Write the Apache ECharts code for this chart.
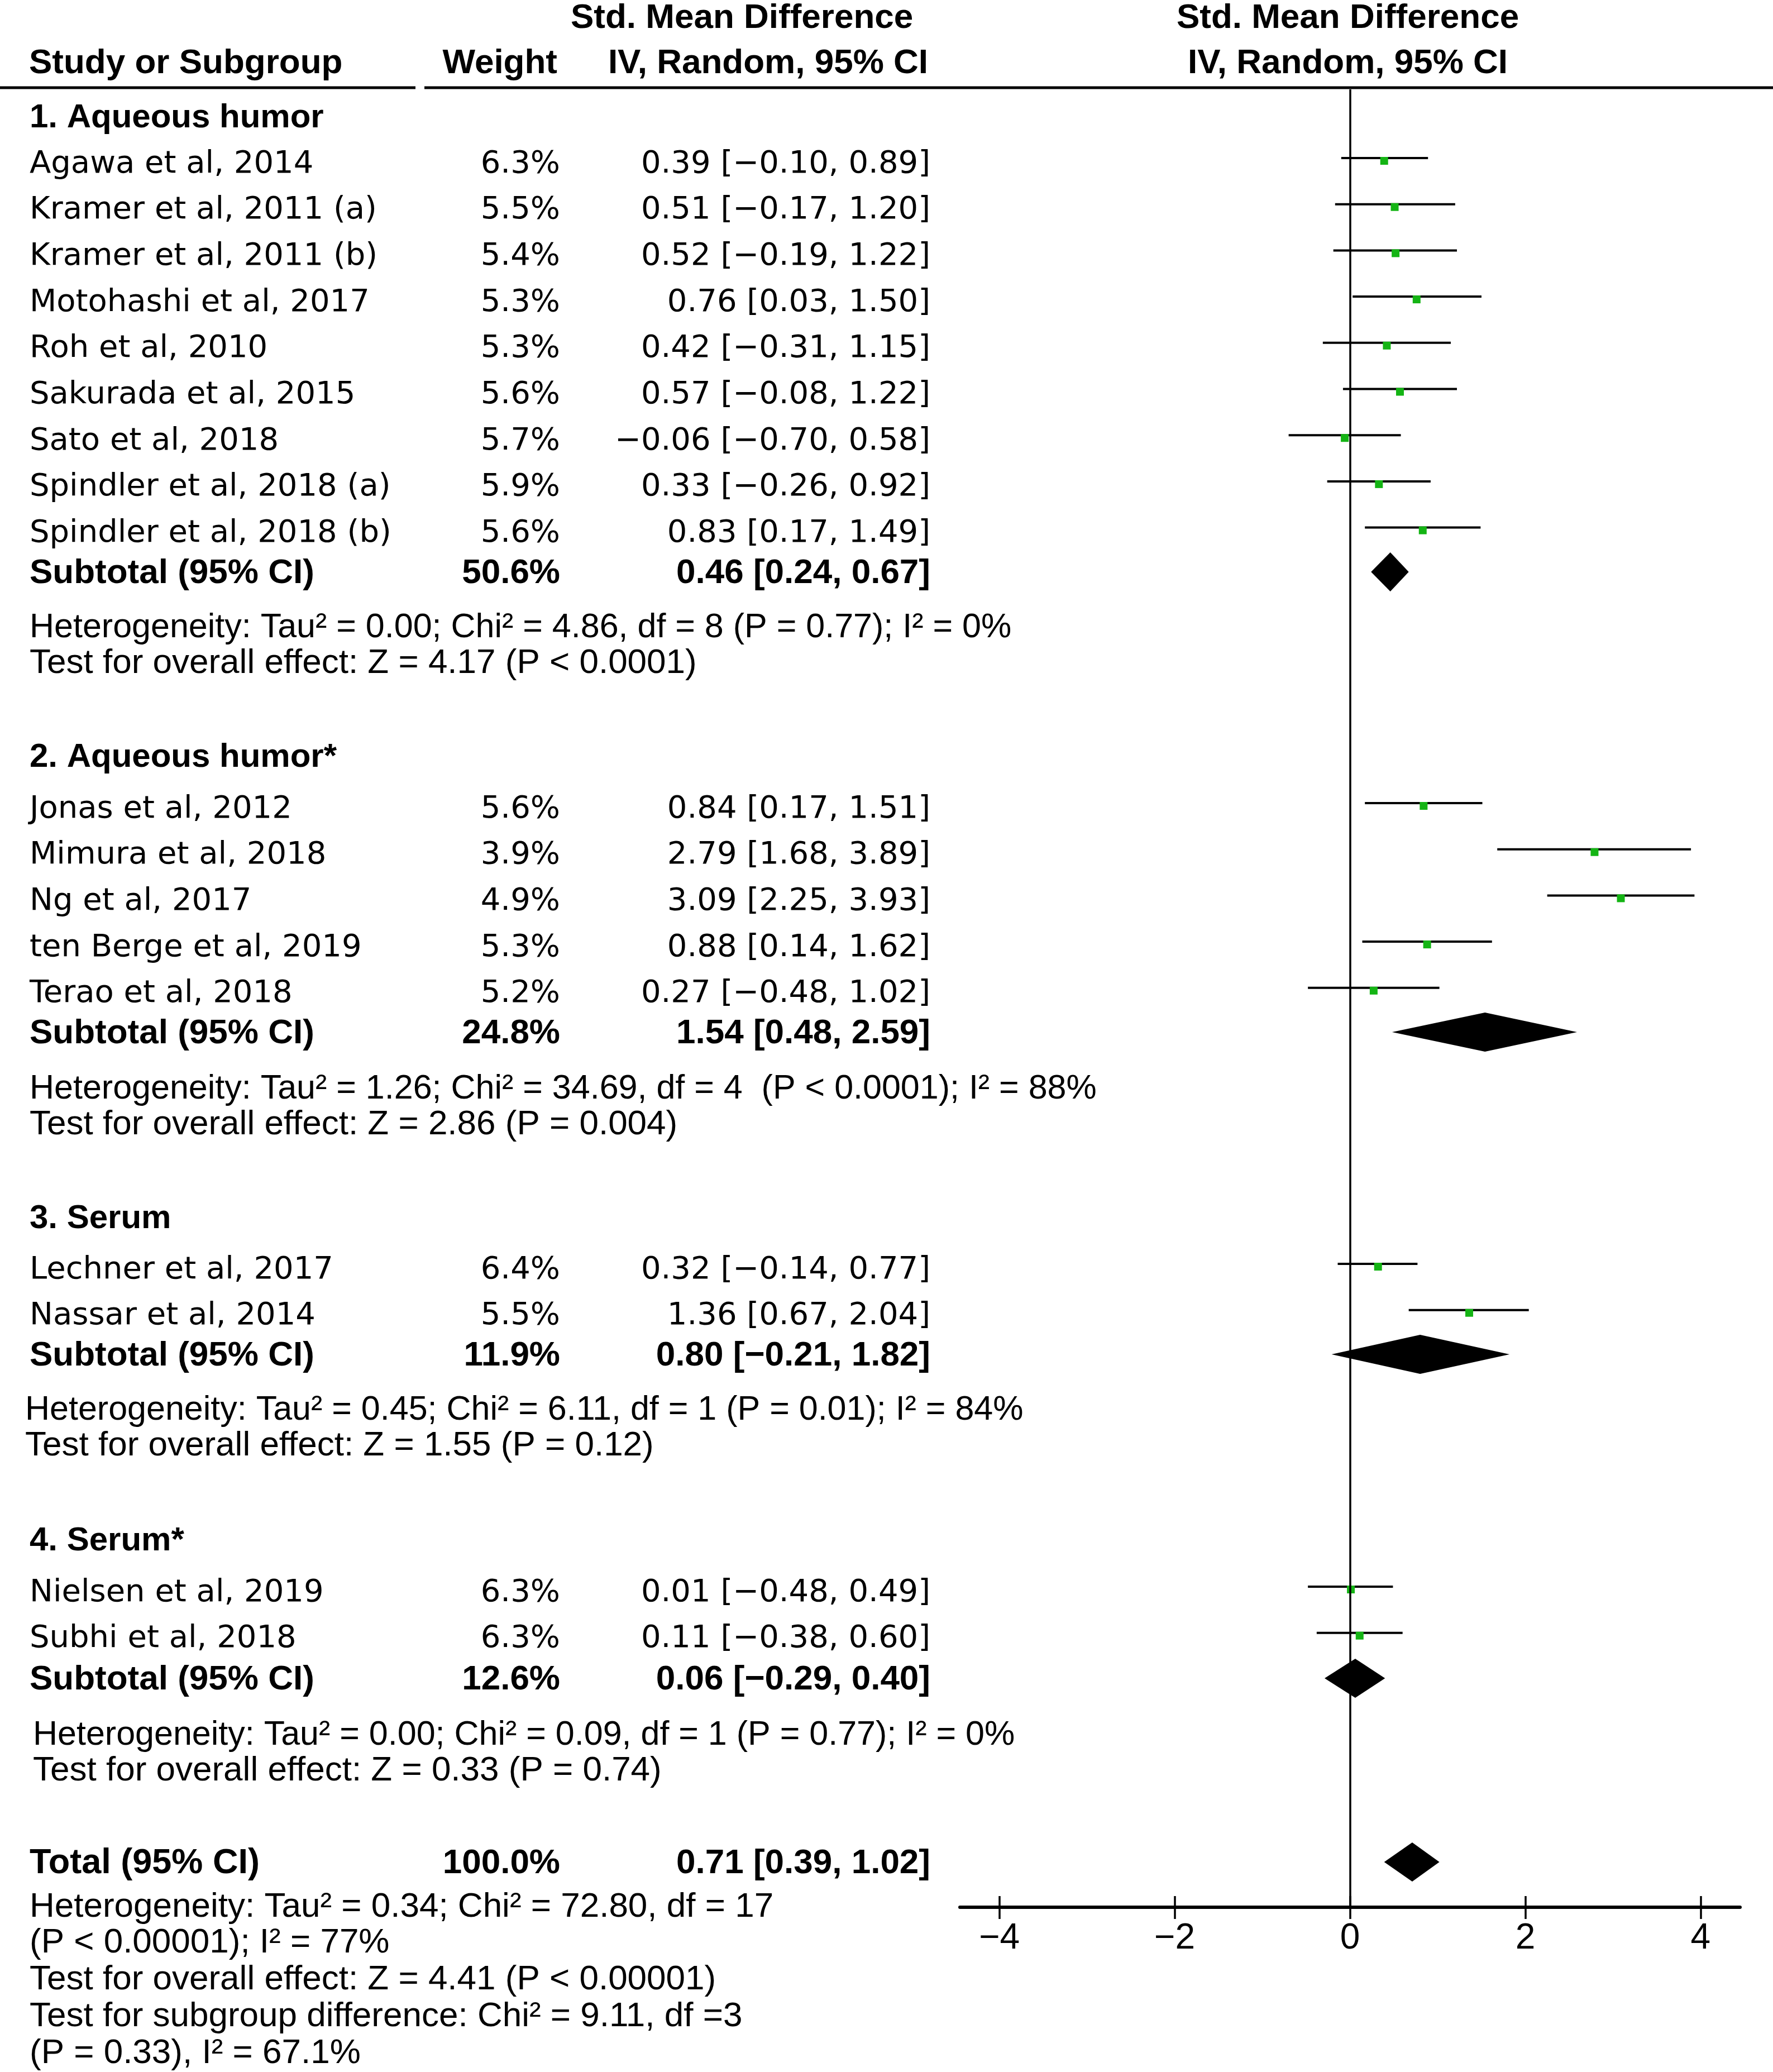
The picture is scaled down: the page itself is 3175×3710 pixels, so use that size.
<!DOCTYPE html>
<html><head><meta charset="utf-8">
<script src="https://cdn.jsdelivr.net/npm/echarts@6/dist/echarts.min.js"></script>
<style>html,body{margin:0;padding:0;background:#fff}#c{width:3175px;height:3710px}</style>
</head><body><div id="c"></div>
<script>
// ---------------- DATA ----------------
const groupTitles = ['1. Aqueous humor', '2. Aqueous humor*', '3. Serum', '4. Serum*'];
const studyGroup = [0,0,0,0,0,0,0,0,0, 1,1,1,1,1, 2,2, 3,3];
const studyNames = [
  'Agawa et al, 2014', 'Kramer et al, 2011 (a)', 'Kramer et al, 2011 (b)', 'Motohashi et al, 2017',
  'Roh et al, 2010', 'Sakurada et al, 2015', 'Sato et al, 2018', 'Spindler et al, 2018 (a)', 'Spindler et al, 2018 (b)',
  'Jonas et al, 2012', 'Mimura et al, 2018', 'Ng et al, 2017', 'ten Berge et al, 2019', 'Terao et al, 2018',
  'Lechner et al, 2017', 'Nassar et al, 2014',
  'Nielsen et al, 2019', 'Subhi et al, 2018'
];
const studyWeights = [6.3,5.5,5.4,5.3,5.3,5.6,5.7,5.9,5.6, 5.6,3.9,4.9,5.3,5.2, 6.4,5.5, 6.3,6.3];
const studySMD   = [0.39,0.51,0.52,0.76,0.42,0.57,-0.06,0.33,0.83, 0.84,2.79,3.09,0.88,0.27, 0.32,1.36, 0.01,0.11];
const studyLower = [-0.10,-0.17,-0.19,0.03,-0.31,-0.08,-0.70,-0.26,0.17, 0.17,1.68,2.25,0.14,-0.48, -0.14,0.67, -0.48,-0.38];
const studyUpper = [0.89,1.20,1.22,1.50,1.15,1.22,0.58,0.92,1.49, 1.51,3.89,3.93,1.62,1.02, 0.77,2.04, 0.49,0.60];
const subtotalWeights = [50.6, 24.8, 11.9, 12.6];
const subtotalSMD   = [0.46, 1.54, 0.80, 0.06];
const subtotalLower = [0.24, 0.48, -0.21, -0.29];
const subtotalUpper = [0.67, 2.59, 1.82, 0.40];
const heterogeneityLines = [
  'Heterogeneity: Tau² = 0.00; Chi² = 4.86, df = 8 (P = 0.77); I² = 0%',
  'Heterogeneity: Tau² = 1.26; Chi² = 34.69, df = 4  (P < 0.0001); I² = 88%',
  'Heterogeneity: Tau² = 0.45; Chi² = 6.11, df = 1 (P = 0.01); I² = 84%',
  'Heterogeneity: Tau² = 0.00; Chi² = 0.09, df = 1 (P = 0.77); I² = 0%'
];
const overallEffectLines = [
  'Test for overall effect: Z = 4.17 (P < 0.0001)',
  'Test for overall effect: Z = 2.86 (P = 0.004)',
  'Test for overall effect: Z = 1.55 (P = 0.12)',
  'Test for overall effect: Z = 0.33 (P = 0.74)'
];
const totalWeight = 100.0;
const totalSMD = 0.71, totalLower = 0.39, totalUpper = 1.02;
const totalNotes = [
  'Heterogeneity: Tau² = 0.34; Chi² = 72.80, df = 17',
  '(P < 0.00001); I² = 77%',
  'Test for overall effect: Z = 4.41 (P < 0.00001)',
  'Test for subgroup difference: Chi² = 9.11, df =3',
  '(P = 0.33), I² = 67.1%'
];
const axisTicks = [-4, -2, 0, 2, 4];

// ---------------- LAYOUT ----------------
const FONT = '"Liberation Sans", Arial, sans-serif';
const FONT_ROW = '"DejaVu Sans", Verdana, sans-serif';
const FS = 62, FS_ROW = 56, FS_NOTE = 61, FS_GROUP = 60;
const colStudyX = 53, colWeightX = 1003, colCIX = 1666;
const textDy = 3;
const headingY = [208, 1353, 2179, 2756];
const firstStudyY = [291, 1446, 2271, 2849];
const rowStep = 82.7;
const subtotalY = [1024, 1848, 2425, 3005];
const hetY = [1121, 1947, 2522, 3104];
const testY = [1185, 2011, 2586, 3168];
const noteX = [53, 53, 45, 59];
const totalY = 3334;
const totalNotesY = [3412, 3476, 3542, 3608, 3674];
const plotTop = 160, axisY = 3415;
const lineOff = -8, sqOff = -3, sqSize = 14, diamondH = 70;

const fmt = v => v.toFixed(2).replace('-', '−');
const ciText = (m, l, u) => fmt(m) + ' [' + fmt(l) + ', ' + fmt(u) + ']';

const studyY = [];
const countInGroup = [0,0,0,0];
studyGroup.forEach((g, i) => { studyY.push(firstStudyY[g] + rowStep * countInGroup[g]); countInGroup[g]++; });

const texts = [];
function T(text, x, y, align, bold, size, family) {
  texts.push({text, x, y: y + textDy, align: align || 'left', bold: !!bold, size: size || FS, family: family || FONT});
}
T('Std. Mean Difference', 1022, 30, 'left', true);
T('Study or Subgroup', 52, 111, 'left', true);
T('Weight', 998, 111, 'right', true);
T('IV, Random, 95% CI', 1662, 111, 'right', true);
groupTitles.forEach((t, g) => {
  T(t, colStudyX, headingY[g], 'left', true, FS_GROUP);
  T('Subtotal (95% CI)', colStudyX, subtotalY[g], 'left', true);
  T(subtotalWeights[g].toFixed(1) + '%', colWeightX, subtotalY[g], 'right', true);
  T(ciText(subtotalSMD[g], subtotalLower[g], subtotalUpper[g]), colCIX, subtotalY[g], 'right', true);
  T(heterogeneityLines[g], noteX[g], hetY[g], 'left', false, FS_NOTE);
  T(overallEffectLines[g], noteX[g], testY[g], 'left', false, FS);
});
studyNames.forEach((n, i) => {
  T(n, colStudyX, studyY[i], 'left', false, FS_ROW, FONT_ROW);
  T(studyWeights[i].toFixed(1) + '%', colWeightX, studyY[i], 'right', false, FS_ROW, FONT_ROW);
  T(ciText(studySMD[i], studyLower[i], studyUpper[i]), colCIX, studyY[i], 'right', false, FS_ROW, FONT_ROW);
});
T('Total (95% CI)', colStudyX, totalY, 'left', true, 63);
T(totalWeight.toFixed(1) + '%', colWeightX, totalY, 'right', true);
T(ciText(totalSMD, totalLower, totalUpper), colCIX, totalY, 'right', true);
totalNotes.forEach((t, i) => T(t, colStudyX, totalNotesY[i], 'left'));

const studyData = studyNames.map((n, i) => [studySMD[i], studyLower[i], studyUpper[i], studyY[i]]);
const diamondData = subtotalSMD.map((m, g) => [m, subtotalLower[g], subtotalUpper[g], subtotalY[g]]);
diamondData.push([totalSMD, totalLower, totalUpper, totalY]);

const chart = echarts.init(document.getElementById('c'), null, {renderer: 'canvas'});
const xAxisBase = {type: 'value', min: -4.45, max: 4.45, splitLine: {show: false}, gridIndex: 0, position: 'bottom'};
chart.setOption({
  animation: false,
  backgroundColor: '#fff',
  grid: {left: 1719, right: 59, top: plotTop, bottom: 3710 - axisY, containLabel: false},
  xAxis: [
    Object.assign({}, xAxisBase, {
      axisLine: {show: true, onZero: false, lineStyle: {color: '#000', width: 6}},
      axisTick: {show: true, customValues: axisTicks, length: 21, inside: false, lineStyle: {color: '#000', width: 3.5}},
      axisLabel: {show: true, customValues: axisTicks, margin: 24, color: '#000', fontSize: 64, fontFamily: FONT,
        formatter: v => String(v).replace('-', '−')}
    }),
    Object.assign({}, xAxisBase, {
      axisLine: {show: false, onZero: false},
      axisTick: {show: true, customValues: axisTicks, length: 20, inside: true, lineStyle: {color: '#000', width: 3.5}},
      axisLabel: {show: false}
    })
  ],
  yAxis: {type: 'value', min: plotTop, max: axisY, inverse: true, show: false},
  graphic: [
    {type: 'line', shape: {x1: 0, y1: 157, x2: 744, y2: 157}, style: {stroke: '#000', lineWidth: 5}},
    {type: 'line', shape: {x1: 760, y1: 157, x2: 3175, y2: 157}, style: {stroke: '#000', lineWidth: 5}}
  ],
  series: [
    {
      type: 'custom', name: 'studies', xAxisIndex: 0, yAxisIndex: 0, clip: false,
      data: studyData,
      renderItem: (params, api) => {
        const y = api.value(3);
        const p = api.coord([api.value(0), y]);
        const l = api.coord([api.value(1), y]);
        const u = api.coord([api.value(2), y]);
        return {type: 'group', children: [
          {type: 'line', shape: {x1: l[0], y1: p[1] + lineOff, x2: u[0], y2: p[1] + lineOff}, style: {stroke: '#000', lineWidth: 4}},
          {type: 'rect', shape: {x: p[0] - sqSize / 2, y: p[1] + sqOff - sqSize / 2, width: sqSize, height: sqSize}, style: {fill: '#14b414'}}
        ]};
      },
      markLine: {silent: true, symbol: 'none', label: {show: false},
        lineStyle: {color: '#000', width: 3.5, type: 'solid'}, data: [{xAxis: 0}]}
    },
    {
      type: 'custom', name: 'pooled', clip: false,
      data: diamondData,
      renderItem: (params, api) => {
        const y = api.value(3);
        const p = api.coord([api.value(0), y]);
        const l = api.coord([api.value(1), y]);
        const u = api.coord([api.value(2), y]);
        return {type: 'polygon', shape: {points: [[l[0], p[1]], [p[0], p[1] - diamondH / 2], [u[0], p[1]], [p[0], p[1] + diamondH / 2]]},
          style: {fill: '#000'}};
      }
    },
    {
      type: 'custom', name: 'table', clip: false,
      data: texts.map((t, i) => [0, t.y, i]),
      renderItem: (params, api) => {
        const t = texts[api.value(2)];
        const p = api.coord([0, api.value(1)]);
        return {type: 'text', style: {text: t.text, x: t.x, y: p[1], align: t.align, verticalAlign: 'middle',
          fill: '#000', fontSize: t.size, fontFamily: t.family, fontWeight: t.bold ? 'bold' : 'normal'}};
      }
    },
    {
      type: 'custom', name: 'rightHeader', clip: false,
      data: [[0, 33, 0], [0, 114, 1]],
      renderItem: (params, api) => {
        const p = api.coord([api.value(0), api.value(1)]);
        const txt = ['Std. Mean Difference', 'IV, Random, 95% CI'][api.value(2)];
        return {type: 'text', style: {text: txt, x: p[0] - 4, y: p[1], align: 'center', verticalAlign: 'middle',
          fill: '#000', fontSize: FS, fontFamily: FONT, fontWeight: 'bold'}};
      }
    }
  ]
});
</script></body></html>
